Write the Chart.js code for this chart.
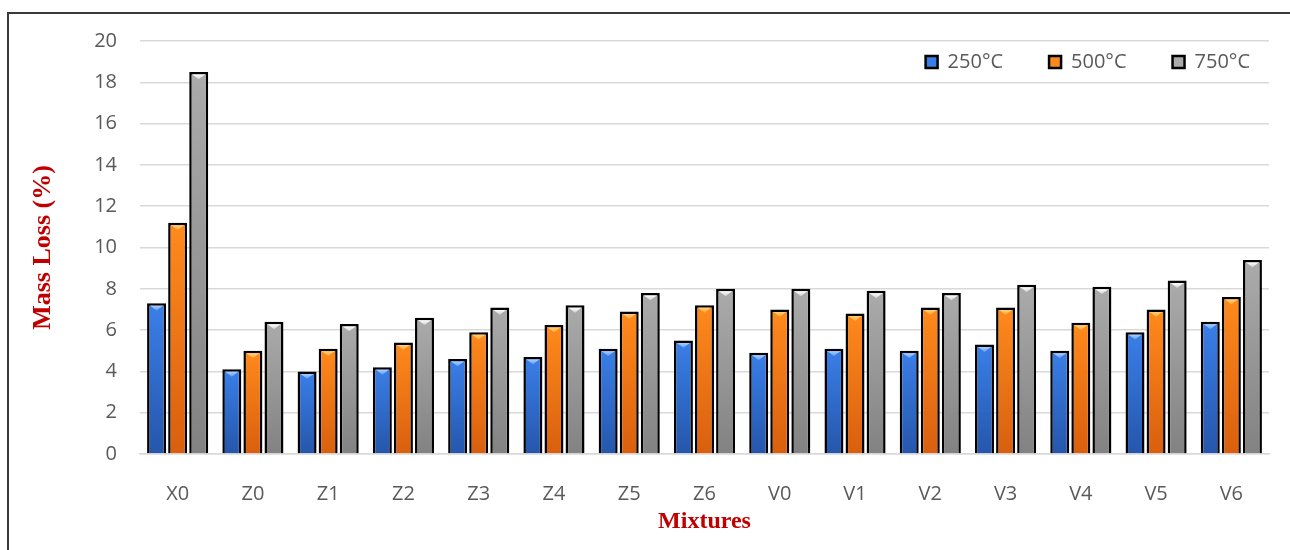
<!DOCTYPE html>
<html>
<head>
<meta charset="utf-8">
<title>Mass Loss of Mixtures</title>
<script src="https://cdn.jsdelivr.net/npm/chart.js@4.4.1/dist/chart.umd.min.js"></script>
<style>
  html, body { margin: 0; padding: 0; background: #ffffff; }
  #wrap { position: relative; width: 1290px; height: 550px; overflow: hidden; }
  #c { display: block; }
  #frame {
    position: absolute; left: 7px; top: 12px; right: 0; bottom: 0;
    border-left: 2px solid #3a3a3a; border-top: 2px solid #3a3a3a;
    pointer-events: none;
  }
</style>
</head>
<body>
<div id="wrap">
  <canvas id="c" width="1290" height="550"></canvas>
  <div id="frame"></div>
</div>
<script>
// Mixtures on the x axis
const mixtures = ['X0', 'Z0', 'Z1', 'Z2', 'Z3', 'Z4', 'Z5', 'Z6', 'V0', 'V1', 'V2', 'V3', 'V4', 'V5', 'V6'];

// Mass loss (%) after exposure at each temperature
const loss250 = [7.3, 4.1, 4.0, 4.2, 4.6, 4.7, 5.1, 5.5, 4.9, 5.1, 5.0, 5.3, 5.0, 5.9, 6.4];
const loss500 = [11.2, 5.0, 5.1, 5.4, 5.9, 6.25, 6.9, 7.2, 7.0, 6.8, 7.1, 7.1, 6.35, 7.0, 7.6];
const loss750 = [18.5, 6.4, 6.3, 6.6, 7.1, 7.2, 7.8, 8.0, 8.0, 7.9, 7.8, 8.2, 8.1, 8.4, 9.4];

const seriesNames = ['250°C', '500°C', '750°C'];

// Value axis range
const yMin = 0;
const yMax = 20;
const yStep = 2;

const TICK_FONT = { family: "'Open Sans', 'Liberation Sans', sans-serif", size: 20 };
const TICK_COLOR = '#595959';
const TITLE_COLOR = '#c00000';
const GRID_COLOR = '#d9d9d9';

// Per-bar vertical gradient: lighter at the top, darker at the base
function barFill(light, dark, flat) {
  return (ctx) => {
    if (ctx.type !== 'data') return flat;
    const chart = ctx.chart;
    const ys = chart.scales.y;
    if (!ys || !chart.chartArea) return flat;
    const top = ys.getPixelForValue(ctx.parsed.y);
    const base = ys.getPixelForValue(0);
    if (!isFinite(top) || !isFinite(base) || base - top < 1) return flat;
    const g = chart.ctx.createLinearGradient(0, top, 0, base);
    g.addColorStop(0, light);
    g.addColorStop(1, dark);
    return g;
  };
}

// Small bevel triangle at the top of each bar
const bevelTops = {
  id: 'bevelTops',
  afterDatasetsDraw(chart) {
    const c = chart.ctx;
    chart.data.datasets.forEach((ds, i) => {
      const meta = chart.getDatasetMeta(i);
      if (meta.hidden) return;
      meta.data.forEach((bar) => {
        const { x, y, width } = bar.getProps(['x', 'y', 'width'], true);
        const half = width / 2 - 3;
        const top = y + 2.5;
        const h = Math.max(3, half * 0.75);
        const g = c.createLinearGradient(0, top, 0, top + h);
        g.addColorStop(0, ds.bevelLight);
        g.addColorStop(1, ds.bevelDark);
        c.save();
        c.fillStyle = g;
        c.beginPath();
        c.moveTo(x - half, top);
        c.lineTo(x + half, top);
        c.lineTo(x, top + h);
        c.closePath();
        c.fill();
        c.restore();
      });
    });
  }
};

// Legend laid out as a single row inside the plot, near the top right corner
const legendPlacement = {
  id: 'legendPlacement',
  beforeUpdate(chart) {
    const lg = chart.legend;
    if (lg && !lg._singleRow) {
      lg.isHorizontal = () => true;
      lg._singleRow = true;
    }
  },
  afterLayout(chart) {
    const lg = chart.legend;
    if (!lg) return;
    const dx = 167, dy = -35;
    lg.left += dx; lg.right += dx;
    lg.top += dy; lg.bottom += dy;
  }
};

const datasets = [
  {
    label: seriesNames[0], data: loss250,
    backgroundColor: barFill('#3a7fe8', '#2556ab', '#2f6bd2'),
    bevelLight: '#a9d0ff', bevelDark: '#5d9cf2'
  },
  {
    label: seriesNames[1], data: loss500,
    backgroundColor: barFill('#ff8a1c', '#d95f0e', '#f57a18'),
    bevelLight: '#ffd27a', bevelDark: '#ffa733'
  },
  {
    label: seriesNames[2], data: loss750,
    backgroundColor: barFill('#ababab', '#828282', '#999999'),
    bevelLight: '#ffffff', bevelDark: '#cfcfcf'
  }
].map(ds => Object.assign(ds, {
  borderColor: '#000000',
  borderWidth: 2.5,
  borderSkipped: 'bottom',
  categoryPercentage: 0.84,
  barPercentage: 0.9
}));

new Chart(document.getElementById('c'), {
  type: 'bar',
  data: { labels: mixtures, datasets },
  plugins: [bevelTops, legendPlacement],
  options: {
    responsive: false,
    animation: false,
    devicePixelRatio: 1,
    layout: { padding: { left: 24, right: 21, top: 41, bottom: 10 } },
    plugins: {
      tooltip: { enabled: false },
      title: { display: false },
      legend: {
        position: 'chartArea',
        align: 'end',
        labels: {
          boxWidth: 12,
          boxHeight: 12,
          padding: 46,
          color: TICK_COLOR,
          font: TICK_FONT
        }
      }
    },
    scales: {
      x: {
        grid: { display: false },
        border: { display: true, color: GRID_COLOR, width: 1.5 },
        ticks: { color: TICK_COLOR, font: TICK_FONT, padding: 20, maxRotation: 0 },
        title: {
          display: true,
          text: 'Mixtures',
          color: TITLE_COLOR,
          font: { family: "'Liberation Serif', 'Times New Roman', serif", size: 24, weight: 'bold' },
          padding: { top: 4, bottom: 4 }
        },
        afterFit(scale) { scale.height = 86; }
      },
      y: {
        min: yMin,
        max: yMax,
        grid: { color: GRID_COLOR, lineWidth: 1.5, drawTicks: false },
        border: { display: false },
        ticks: { stepSize: yStep, color: TICK_COLOR, font: TICK_FONT, padding: 23 },
        title: {
          display: true,
          text: 'Mass Loss (%)',
          color: TITLE_COLOR,
          font: { family: "'Liberation Serif', 'Times New Roman', serif", size: 26, weight: 'bold' },
          padding: { top: 4, bottom: 4 }
        },
        afterFit(scale) { scale.width = 116; }
      }
    }
  }
});
</script>
</body>
</html>
